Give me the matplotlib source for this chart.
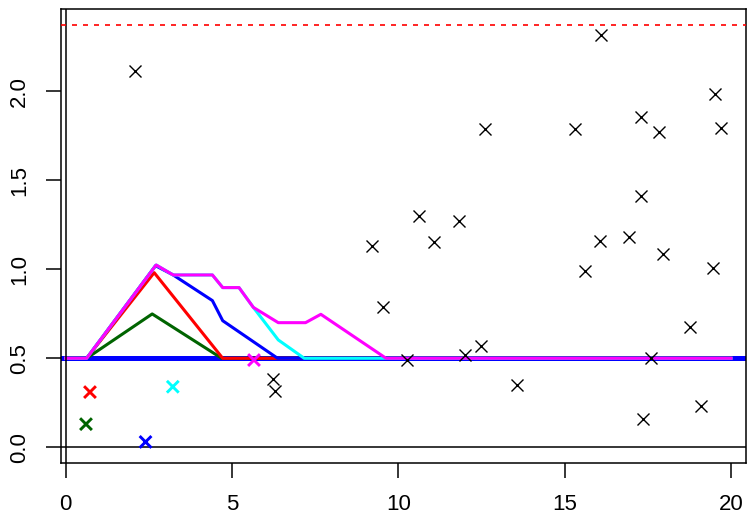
import matplotlib.pyplot as plt

plt.rcParams['font.family'] = ['Liberation Sans', 'DejaVu Sans']

# scattered observations
obs_x = [2.08, 6.23, 6.28, 9.22, 9.54, 10.26, 10.61, 11.07, 11.82, 12.01,
         12.49, 12.61, 13.58, 15.32, 15.60, 16.07, 16.10, 16.92, 17.30, 17.30,
         17.35, 17.58, 17.83, 17.95, 18.78, 19.09, 19.46, 19.51, 19.69]
obs_y = [2.116, 0.382, 0.318, 1.131, 0.790, 0.490, 1.299, 1.152, 1.273, 0.519,
         0.569, 1.786, 0.350, 1.786, 0.992, 1.159, 2.316, 1.183, 1.857, 1.413,
         0.157, 0.500, 1.770, 1.086, 0.674, 0.234, 1.009, 1.983, 1.792]

# the first five points, each with its own colour
pick_x = [0.61, 0.73, 2.40, 3.22, 5.66]
pick_y = [0.13, 0.31, 0.03, 0.34, 0.49]
pick_colors = ['darkgreen', 'red', 'blue', 'cyan', 'magenta']

# envelope after each added point
green_x = [0, 0.63, 2.60, 4.69, 20]
green_y = [0.5, 0.5, 0.749, 0.5, 0.5]
red_x = [0, 0.63, 2.66, 4.72, 20]
red_y = [0.5, 0.5, 0.981, 0.5, 0.5]
blue_x = [0, 0.63, 2.70, 3.23, 4.41, 4.72, 6.37, 20]
blue_y = [0.5, 0.5, 1.020, 0.968, 0.824, 0.711, 0.5, 0.5]
cyan_x = [0, 0.63, 2.72, 3.23, 4.41, 4.72, 5.21, 5.64, 6.39, 7.17, 20]
cyan_y = [0.5, 0.5, 1.024, 0.968, 0.968, 0.897, 0.897, 0.786, 0.603, 0.5, 0.5]
magenta_x = [0, 0.63, 2.72, 3.23, 4.41, 4.72, 5.21, 5.64, 6.39, 7.21, 7.67, 9.63, 20]
magenta_y = [0.5, 0.5, 1.024, 0.968, 0.968, 0.897, 0.897, 0.786, 0.70, 0.70, 0.747, 0.5, 0.5]

base_level = 0.5
top_level = 2.371

x_ticks = [0, 5, 10, 15, 20]
y_ticks = [0.0, 0.5, 1.0, 1.5, 2.0]
y_tick_labels = ['0.0', '0.5', '1.0', '1.5', '2.0']

fig = plt.figure(figsize=(7.47, 5.18), dpi=100)
ax = fig.add_axes([61 / 747, 1 - 463.3 / 518, 685 / 747, 454.3 / 518])

ax.axhline(base_level, color='blue', lw=3.6, zorder=1)
curves = [(green_x, green_y, 'darkgreen'), (red_x, red_y, 'red'),
          (blue_x, blue_y, 'blue'), (cyan_x, cyan_y, 'cyan'),
          (magenta_x, magenta_y, 'magenta')]
for cx, cy, col in curves:
    ax.plot(cx, cy, color=col, lw=2.2, solid_joinstyle='round', zorder=2)

ax.axhline(0, color='black', lw=1.1, zorder=3)
ax.axvline(0, color='black', lw=1.1, zorder=3)
ax.axhline(top_level, color='red', lw=1.2, linestyle=(0, (3.0, 3.6)), zorder=3)

ax.plot(obs_x, obs_y, 'x', color='black', ms=8.5, mew=1.0, zorder=4)
ax.scatter(pick_x, pick_y, marker='x', c=pick_colors, s=8.5 ** 2, linewidths=2.1, zorder=5)

ax.set_xlim(-0.141, 20.45)
ax.set_ylim(-0.09, 2.462)
ax.set_xticks(x_ticks)
ax.set_yticks(y_ticks)
ax.set_yticklabels(y_tick_labels)
ax.tick_params(direction='out', length=10.8, width=1.1, pad=11.5, labelsize=16)
ax.tick_params(axis='y', labelrotation=90)
for lab in ax.get_yticklabels():
    lab.set_va('center')
for sp in ax.spines.values():
    sp.set_linewidth(1.1)

plt.savefig('out.png', dpi=100)
plt.close()
